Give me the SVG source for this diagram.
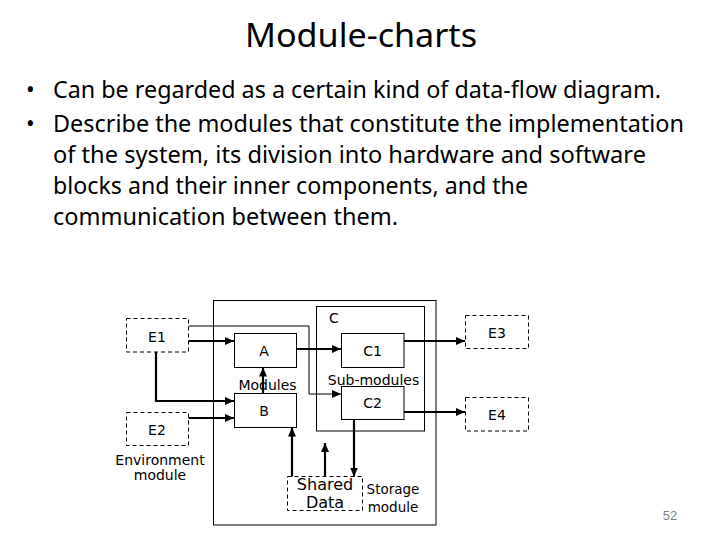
<svg xmlns="http://www.w3.org/2000/svg" width="720" height="540" viewBox="0 0 720 540">
<style>
.title{font-family:"Noto Sans","Liberation Sans",sans-serif;font-size:33px;fill:#000}
.body{font-family:"Noto Sans","Liberation Sans",sans-serif;font-size:23px;fill:#000}
.lbl{font-family:"DejaVu Sans",Verdana,sans-serif;font-size:14px;fill:#000;text-anchor:middle}
.box{fill:#fff;stroke:#000;stroke-width:1}
.dbox{fill:#fff;stroke:#000;stroke-width:1;stroke-dasharray:4 3}
.c{fill:none;stroke:#000;stroke-width:2.2;marker-end:url(#ah)}
.t{fill:none;stroke:#000;stroke-width:1;marker-end:url(#ah)}
</style>
<defs>
<marker id="ah" markerUnits="userSpaceOnUse" markerWidth="9" markerHeight="8" refX="9" refY="4" orient="auto">
<path d="M0,0 L9,4 L0,8 z" fill="#000"/>
</marker>
</defs>
<rect width="720" height="540" fill="#fff"/>
<text class="title" x="361" y="47" text-anchor="middle" textLength="232" lengthAdjust="spacingAndGlyphs">Module-charts</text>
<text class="body" x="26" y="98">•</text>
<text class="body" x="53" y="98" textLength="608" lengthAdjust="spacingAndGlyphs">Can be regarded as a certain kind of data-flow diagram.</text>
<text class="body" x="26" y="131.5">•</text>
<text class="body" x="53" y="131.5" textLength="631" lengthAdjust="spacingAndGlyphs">Describe the modules that constitute the implementation</text>
<text class="body" x="53" y="162.5" textLength="593" lengthAdjust="spacingAndGlyphs">of the system, its division into hardware and software</text>
<text class="body" x="53" y="193.5" textLength="475" lengthAdjust="spacingAndGlyphs">blocks and their inner components, and the</text>
<text class="body" x="53" y="224.5" textLength="345" lengthAdjust="spacingAndGlyphs">communication between them.</text>

<g id="system"><rect class="box" x="213.5" y="300.5" width="222.5" height="224.5"/></g>
<g id="C"><rect class="box" x="316.5" y="306.5" width="108" height="124.5"/><text class="lbl" x="334" y="323">C</text><text class="lbl" x="373.5" y="384.5">Sub-modules</text></g>
<g id="E1"><rect class="dbox" x="126.5" y="318.5" width="62" height="33.5"/><text class="lbl" x="157" y="342">E1</text></g>
<g id="E2"><rect class="dbox" x="126.5" y="412.5" width="62" height="33"/><text class="lbl" x="157" y="435">E2</text><text class="lbl" x="160" y="465">Environment</text><text class="lbl" x="160" y="480">module</text></g>
<g id="A"><rect class="box" x="234.5" y="333.5" width="62" height="34"/><text class="lbl" x="264" y="355.5">A</text></g>
<g id="B"><rect class="box" x="234.5" y="393.5" width="62" height="34"/><text class="lbl" x="264" y="416">B</text></g>
<text class="lbl" x="267.5" y="389.5">Modules</text>
<g id="C1"><rect class="box" x="341.5" y="333.5" width="62.5" height="34"/><text class="lbl" x="372.5" y="355.5">C1</text></g>
<g id="C2"><rect class="box" x="341.5" y="386.5" width="62.5" height="33"/><text class="lbl" x="372.5" y="408">C2</text></g>
<g id="E3"><rect class="dbox" x="465.5" y="315.5" width="63" height="33"/><text class="lbl" x="497" y="337.5">E3</text></g>
<g id="E4"><rect class="dbox" x="465.5" y="397.5" width="63" height="33.5"/><text class="lbl" x="497" y="420">E4</text></g>
<g id="SharedData"><rect class="dbox" x="287.5" y="476.5" width="75" height="34"/><text class="lbl" x="325" y="490" style="font-size:16px">Shared</text><text class="lbl" x="325" y="508" style="font-size:16px">Data</text><text class="lbl" x="393" y="494" style="font-size:13.5px">Storage</text><text class="lbl" x="393" y="511.5" style="font-size:13.5px">module</text></g>

<g id="connectors">
<path class="c" d="M188.5 341 H234"/>
<path class="t" d="M188.5 326 H309 V394 H341"/>
<path class="c" d="M156 352 V401 H234"/>
<path class="c" d="M188.5 418 H234"/>
<path class="c" d="M263 393 V367.5"/>
<path class="c" d="M297 349 H341"/>
<path class="c" d="M404 341 H465"/>
<path class="c" d="M404 412 H465"/>
<path class="c" d="M292 476.5 V427.5"/>
<path class="c" d="M325 476.5 V443"/>
<path class="c" d="M354 420 V476.5"/>
</g>
<text x="670" y="520" text-anchor="middle" style="font-family:'Liberation Sans',sans-serif;font-size:13px;fill:#7f7f7f">52</text>
</svg>
